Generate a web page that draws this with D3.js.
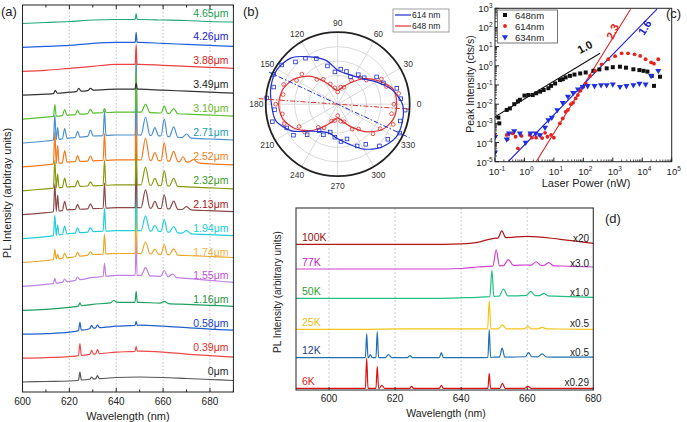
<!DOCTYPE html>
<html><head><meta charset="utf-8">
<script src="https://cdn.jsdelivr.net/npm/d3@7"></script>
<style>body{margin:0;background:#fff}svg{display:block}text{font-family:"Liberation Sans",Arial,sans-serif}</style>
</head><body><svg id="c" width="687" height="422"></svg>
<script>
// ---------------- Panel (a) data ----------------
const aWl = [600,610,620,630,640,650,660,670,680,690];
const aNames = ["0μm","0.39μm","0.58μm","1.16μm","1.55μm","1.74μm","1.94μm","2.13μm","2.32μm","2.52μm","2.71μm","3.10μm","3.49μm","3.88μm","4.26μm","4.65μm"];
const aBase = [
 [0,0.5,1,3,4.5,5,4.5,3.5,2.5,1.5],
 [0,0.5,1.5,4,6,7,6,4,2.5,1],
 [0,0.5,2,6,8,9,8,6.5,5,4],
 [0,1,3,6,8,8,7,6,5,4],
 [0,2,5,9,11,11,10,8,6,4],
 [0,2,5,8,9,9,8,7,6,5],
 [0,2,5,7,8,8,7,5,4,3],
 [0,2,5,6,7,7,6,5,4,3],
 [0,2,4,5,6,6,5,4,3,2],
 [0,2,5,6,7,7,6,5,3,2],
 [0,2,5,7,8,8,7,5,4,3],
 [0,2,4,6,7,7,6,5,4,3],
 [0,1,3,5,6,6,5,4,3,2],
 [0,1,3,5,7,7,6,5,4,3],
 [0,1,2,4,5,5,4,3,2,1],
 [0,1,2,3.5,4,4,3.5,3,2,1.5]
];
const aPeaks = [
 [[624.5,8,0.6],[629.5,2,0.8],[632,3,0.8]],
 [[624.5,12,0.6],[629.5,4,0.8],[632,4,0.8],[648.5,5,0.5]],
 [[624.5,8,0.6],[629.5,3,0.8],[632,3,0.8],[648.5,4,0.5]],
 [[624.5,3,0.7],[639,2,1.5],[648.5,11,0.5],[660.5,2,1.8]],
 [[613.8,5,0.6],[618,3,1],[623.5,3,1],[635,13,0.6],[648.5,40,0.4],[652.5,8,1.9],[660.5,6,1.6],[664,3,1.8]],
 [[613.8,10,0.6],[615,5,0.6],[618,5,1],[623.5,4,1],[629,3,1.2],[635,20,0.6],[648.5,90,0.4],[652.5,12,1.9],[656.5,5,1.6],[660.5,10,1.4],[664.5,6,1.8]],
 [[613.8,20,0.6],[615,10,0.6],[618,8,1],[623.5,5,1],[629,4,1.2],[635,23,0.6],[648.5,95,0.4],[652.5,15,1.9],[656.5,6,1.6],[660.5,12,1.4],[664.5,6,1.8],[670,3,2]],
 [[613.8,28,0.6],[615,16,0.6],[618,9,1],[623.5,5,1],[629,5,1.2],[635,25,0.6],[648.5,60,0.4],[652.5,18,1.9],[656.5,7,1.6],[660.5,14,1.4],[664.5,8,1.8],[670,3,2]],
 [[613.8,28,0.6],[615,14,0.6],[618,9,1],[623.5,6,1],[629,4,1.2],[635,25,0.6],[648.5,50,0.4],[652.5,18,1.9],[656.5,7,1.6],[660.5,15,1.4],[664.5,8,1.8]],
 [[613.8,32,0.6],[615,18,0.6],[618,12,1],[623.5,6,1],[629,5,1.2],[635,27,0.6],[648.5,100,0.4],[652.5,22,1.9],[656.5,8,1.6],[660.5,18,1.4],[664.5,10,1.8],[668.5,5,1.5],[673,3,2]],
 [[613.8,25,0.6],[615,12,0.6],[618,10,1],[623.5,6,1],[629,6,1.2],[635,25,0.6],[648.5,85,0.4],[652.5,18,1.9],[656.5,8,1.6],[660.5,17,1.4],[664.5,10,1.8],[670,4,2]],
 [[613.8,12,0.6],[618,6,1],[623.5,4,1],[629,4,1.2],[635,4,0.8],[648.5,40,0.4],[652.5,8,1.9],[660.5,7,1.4],[664.5,5,1.8]],
 [[614,3,0.8],[624,3,1],[629,2,1.2],[648.5,6,0.5]],
 [[648.5,20,0.4]],
 [[648.5,10,0.4]],
 [[648.5,6,0.4]]
];
const aLineColors = ["#555555","#f04848","#2060d0","#20a060","#c080e8","#e8a828","#20d0d8","#8a4848","#8a9a10","#f47a20","#4a90d0","#58c030","#333333","#f04040","#2060e0","#20a878"];
const aLabelColors = ["#222222","#e02828","#1a40d0","#1f9040","#c050e0","#f0b040","#10cce0","#a02020","#3a9a20","#f08020","#1aa0b0","#6ab82a","#222222","#e02020","#1a1adc","#1a9e50"];
const aTicks = [600,620,640,660,680];
const aMinor = [610,630,650,670,690];

// ---------------- Panel (b) data ----------------
const bFitAngles = [0,15,30,45,60,75,90,105,120,135,150,165,180,195,210,225,240,255,270,285,300,315,330,345];
const bFit614 = [0.90,0.78,0.62,0.50,0.45,0.44,0.47,0.63,0.76,0.91,0.97,0.96,0.92,0.89,0.74,0.53,0.44,0.42,0.48,0.57,0.72,0.85,0.93,0.93];
const bFit648 = [0.82,0.80,0.65,0.50,0.34,0.24,0.19,0.23,0.36,0.55,0.70,0.79,0.82,0.79,0.68,0.52,0.35,0.24,0.19,0.24,0.36,0.54,0.71,0.80];
const bPtAngles = d3.range(0,360,10);
const bPts614 = [0.88,0.85,0.70,0.66,0.52,0.50,0.42,0.47,0.49,0.45,0.55,0.70,0.78,0.83,0.95,0.98,0.92,0.99,0.88,0.94,0.78,0.75,0.60,0.45,0.47,0.40,0.46,0.52,0.50,0.64,0.68,0.82,0.85,0.95,0.90,0.94];
const bPts648 = [0.78,0.86,0.72,0.70,0.52,0.48,0.38,0.25,0.24,0.17,0.23,0.30,0.40,0.45,0.65,0.66,0.80,0.77,0.86,0.78,0.79,0.62,0.60,0.42,0.38,0.25,0.23,0.16,0.24,0.26,0.40,0.45,0.64,0.68,0.82,0.76];
const bAxis614 = [[155,1.05],[335,1.1]];
const bAxis648 = [[176,1.1],[356,1.0]];
const bAngleTicks = [0,30,60,90,120,150,180,210,240,270,300,330];
const bRings = [0.2,0.4,0.6,0.8];

// ---------------- Panel (c) data ----------------
const c648 = [[0.14,1e-3],[0.13,2e-3],[0.25,5e-3],[0.32,6e-3],[0.45,0.01],[0.6,0.014],[0.7,0.017],[1.0,0.028],[1.35,0.03],[1.9,0.03],[2.5,0.037],[3.4,0.045],[4.5,0.055],[6.5,0.068],[8,0.09],[11,0.12],[16,0.18],[20,0.2],[25,0.25],[35,0.3],[50,0.35],[78,0.4],[120,0.45],[220,0.55],[350,0.65],[620,0.74],[1000,0.85],[1750,0.9],[2800,0.8],[5000,0.66],[8000,0.6],[11000,0.55],[15000,0.5],[21000,0.3],[25000,0.09],[40000,0.27]];
const c614 = [[0.1,2.5e-4],[0.1,2e-4],[0.25,2.5e-4],[0.27,1.5e-4],[0.4,3e-4],[0.5,2e-4],[0.6,5e-5],[0.8,2.2e-4],[1.5,2.5e-4],[1.8,1.8e-4],[2.5,1.8e-4],[3.2,2.5e-4],[4,1.7e-4],[5,3.2e-4],[6,2e-4],[8,2.5e-4],[10,1.8e-4],[16,1e-3],[20,1.8e-3],[25,4e-3],[30,5e-3],[38,0.01],[45,0.012],[55,0.02],[65,0.03],[80,0.05],[100,0.08],[120,0.12],[170,0.3],[250,0.55],[420,1.2],[700,2.2],[1200,3.2],[2000,4.5],[3300,4.5],[5500,4],[8500,3.3],[13000,2.2],[20000,1.5],[25000,1.3],[35000,2.2]];
const c634 = [[0.1,3e-5],[0.1,2e-4],[0.25,1.5e-4],[0.3,3e-4],[0.45,4e-4],[0.7,3e-4],[1.1,1e-4],[1.6,3e-4],[2.4,3e-4],[3.4,2.5e-4],[5,6e-4],[6.5,1.5e-3],[8.5,2e-3],[13,5e-3],[20,0.012],[30,0.025],[45,0.04],[66,0.06],[95,0.08],[140,0.09],[240,0.09],[400,0.1],[620,0.1],[1000,0.11],[1750,0.08],[2900,0.09],[5000,0.1],[8000,0.12],[13000,0.11],[20000,0.3],[35000,0.55]];
const cFit648 = [[0.1,2.2e-3],[370,4.5]];
const cFit614 = [[2.5,1e-5],[4000,900]];
const cFit634 = [[0.28,1e-5],[31600,900]];
const cXTicks = [-1,0,1,2,3,4,5];
const cYTicks = [-5,-4,-3,-2,-1,0,1,2,3];

// ---------------- Panel (d) data ----------------
const dWl = [590,600,610,620,630,640,645,650,660,670,680];
const dNames = ["6K","12K","25K","50K","77K","100K"];
const dFactors = ["x0.29","x0.5","x0.5","x1.0","x3.0","x20"];
const dOffsets = [1.7,32.3,60.7,91.7,121,145.7];
const dBase = [
 [0,0,0,0,0,0,0,0,0,0,0],
 [0,0,0,0,0,0,0,0.5,1,0.5,0.5],
 [0,0,0,0.5,0.5,0.5,0.5,0.5,0.5,0.3,0],
 [0,0,0,0,0,0.5,1,2,3,2,1],
 [0,0,0,0,0,0.5,2,3,4,3,2],
 [0,0,0,0,0,0.5,2,6,8,5,1]
];
const dPeaks = [
 [[611.4,30,0.4],[614.6,22,0.4],[616,3,0.8],[625,2,0.6],[634,3,0.6],[648.5,15,0.4],[652.5,5,0.8],[660.2,2,1]],
 [[611.4,24,0.4],[612.5,3,0.6],[614.6,26,0.4],[618,3,1],[624.5,2,0.8],[634,5,0.6],[648.5,28,0.4],[652.4,9,0.8],[660.4,4,1],[664.5,3,1.3]],
 [[648.5,28,0.5],[652.5,4,1.3],[660.2,2.5,1],[664.5,1.5,1.3]],
 [[649.3,26,0.6],[652.8,7,1.3],[661.1,4,1.3],[665,2.5,1.3]],
 [[650.6,16,1.0],[654.3,6,1.5],[662.7,3.5,1.5],[666.5,3,1.5]],
 [[652.3,7,1.2]]
];
const dLineColors = ["#e01010","#2070b0","#f5c518","#20c080","#d040d0","#b01818"];
const dLabelColors = ["#e02020","#1f3f90","#f0c020","#30a030","#c020c0","#a01010"];
const dTicks = [600,620,640,660,680];

// ---------------- helpers ----------------
const svg = d3.select("#c");
function buildSpectrum(wl, base, peaks){
  const interp = x => {
    let i = d3.bisectRight(wl, x) - 1;
    i = Math.max(0, Math.min(wl.length - 2, i));
    const t = (x - wl[i]) / (wl[i+1] - wl[i]);
    return base[i] + t * (base[i+1] - base[i]);
  };
  const pts = [];
  wl.forEach((x,i) => {
    if (!peaks.some(([c,h,w]) => Math.abs(x - c) <= w + 0.05)) pts.push([x, base[i]]);
  });
  peaks.forEach(([c,h,w]) => {
    pts.push([c - w, interp(c - w)], [c, interp(c) + h], [c + w, interp(c + w)]);
  });
  pts.sort((a,b) => a[0] - b[0]);
  return pts;
}
function pow10(sel, e){
  sel.text("10");
  sel.append("tspan").attr("dy", -4).attr("font-size", 6.5).text(e);
}

// ================= Panel (a) =================
{
  const x = d3.scaleLinear([600, 690], [22.5, 233.4]);
  const y = d3.scaleLinear([-10, 377], [392, 5]);
  const step = 23.9;
  const g = svg.append("g");
  g.selectAll(".grid").data(aTicks.slice(1)).join("line")
    .attr("x1", d => x(d)).attr("x2", d => x(d)).attr("y1", y.range()[1]).attr("y2", y.range()[0])
    .attr("stroke", "#b5b5b5").attr("stroke-width", 0.8).attr("stroke-dasharray", "1.5,2");
  const line = d3.line().x(d => x(d[0])).y(d => y(d[1])).curve(d3.curveMonotoneX);
  aNames.forEach((name, k) => {
    const pts = buildSpectrum(aWl, aBase[k], aPeaks[k]).map(p => [p[0], p[1] + k * step]);
    g.append("path").attr("d", line(pts)).attr("fill", "none")
      .attr("stroke", aLineColors[k]).attr("stroke-width", 1.2);
  });
  aNames.forEach((name, k) => {
    g.append("text").attr("x", 228.5).attr("y", y(k * step + 7)).attr("text-anchor", "end")
      .attr("font-size", 10.5).attr("fill", aLabelColors[k]).text(name);
  });
  g.append("rect").attr("x", x(600)).attr("y", 5).attr("width", x(690) - x(600)).attr("height", 387)
    .attr("fill", "none").attr("stroke", "#222").attr("stroke-width", 1);
  const ticks = aTicks.map(t => [t, 4]).concat(aMinor.map(t => [t, 2.5]));
  ticks.forEach(([t, len]) => {
    g.append("line").attr("x1", x(t)).attr("x2", x(t)).attr("y1", 392).attr("y2", 392 - len).attr("stroke", "#222");
    g.append("line").attr("x1", x(t)).attr("x2", x(t)).attr("y1", 5).attr("y2", 5 + len).attr("stroke", "#222");
  });
  g.selectAll(".tl").data(aTicks).join("text").attr("x", d => x(d)).attr("y", 405)
    .attr("text-anchor", "middle").attr("font-size", 10).attr("fill", "#222").text(d => d);
  g.append("text").attr("x", 128).attr("y", 420).attr("text-anchor", "middle").attr("font-size", 11)
    .attr("fill", "#222").text("Wavelength (nm)");
  g.append("text").attr("transform", "translate(11,193) rotate(-90)").attr("text-anchor", "middle")
    .attr("font-size", 11).attr("fill", "#222").text("PL Intensity (arbitray units)");
  g.append("text").attr("x", 1).attr("y", 16).attr("font-size", 13).attr("fill", "#222").text("(a)");
}

// ================= Panel (b) =================
{
  const cx = 337.7, cy = 104.2;
  const r = d3.scaleLinear([0, 1], [0, 72]);
  const g = svg.append("g").attr("transform", `translate(${cx},${cy})`);
  const pol = (deg, v) => [r(v) * Math.cos(deg * Math.PI / 180), -r(v) * Math.sin(deg * Math.PI / 180)];
  g.selectAll(".ring").data(bRings).join("circle").attr("r", d => r(d))
    .attr("fill", "none").attr("stroke", "#d0d0d0").attr("stroke-width", 0.8);
  g.selectAll(".spoke").data(bAngleTicks).join("line")
    .attr("x1", 0).attr("y1", 0).attr("x2", d => pol(d, 1)[0]).attr("y2", d => pol(d, 1)[1])
    .attr("stroke", "#d0d0d0").attr("stroke-width", 0.8);
  const radial = d3.lineRadial().angle(d => (90 - d[0]) * Math.PI / 180).radius(d => r(d[1]))
    .curve(d3.curveCardinalClosed.tension(0.2));
  g.append("path").attr("d", radial(bFitAngles.map((a, i) => [a, bFit648[i]])))
    .attr("fill", "none").attr("stroke", "#e03030").attr("stroke-width", 1.2);
  g.append("path").attr("d", radial(bFitAngles.map((a, i) => [a, bFit614[i]])))
    .attr("fill", "none").attr("stroke", "#2030d0").attr("stroke-width", 1.2);
  bPtAngles.forEach((a, i) => {
    const p = pol(a, bPts648[i]);
    g.append("circle").attr("cx", p[0]).attr("cy", p[1]).attr("r", 1.9)
      .attr("fill", "none").attr("stroke", "#e03030").attr("stroke-width", 0.8);
  });
  bPtAngles.forEach((a, i) => {
    const p = pol(a + 5, bPts614[i]);
    g.append("rect").attr("x", p[0] - 1.8).attr("y", p[1] - 1.8).attr("width", 3.6).attr("height", 3.6)
      .attr("fill", "none").attr("stroke", "#2030d0").attr("stroke-width", 0.8);
  });
  [[bAxis614, "#2030d0"], [bAxis648, "#e03030"]].forEach(([seg, col]) => {
    const p1 = pol(seg[0][0], seg[0][1]), p2 = pol(seg[1][0], seg[1][1]);
    g.append("line").attr("x1", p1[0]).attr("y1", p1[1]).attr("x2", p2[0]).attr("y2", p2[1])
      .attr("stroke", col).attr("stroke-width", 1).attr("stroke-dasharray", "5,2,1.5,2");
  });
  g.append("circle").attr("r", r(1)).attr("fill", "none").attr("stroke", "#222").attr("stroke-width", 1.8);
  g.selectAll(".al").data(bAngleTicks).join("text")
    .attr("x", d => pol(d, 1.13)[0]).attr("y", d => pol(d, 1.13)[1] + 3)
    .attr("text-anchor", "middle").attr("font-size", 8.5).attr("fill", "#333").text(d => d);
  const lg = svg.append("g");
  lg.append("rect").attr("x", 393).attr("y", 9).attr("width", 56).attr("height", 23)
    .attr("fill", "#fff").attr("stroke", "#888").attr("stroke-width", 0.8);
  [["614 nm", "#2030d0", 15], ["648 nm", "#e03030", 26]].forEach(([t, c, yy]) => {
    lg.append("line").attr("x1", 395).attr("x2", 411).attr("y1", yy).attr("y2", yy).attr("stroke", c).attr("stroke-width", 1.2);
    lg.append("text").attr("x", 412).attr("y", yy + 3).attr("font-size", 8.5).attr("fill", "#222").text(t);
  });
  svg.append("text").attr("x", 243).attr("y", 16).attr("font-size", 13).attr("fill", "#222").text("(b)");
}

// ================= Panel (c) =================
{
  const x = d3.scaleLog([0.1, 1e5], [495, 671.7]);
  const y = d3.scaleLog([1e-5, 1e3], [161.7, 8.3]);
  const g = svg.append("g");
  const fitLine = d3.line().x(d => x(d[0])).y(d => y(d[1]));
  g.append("defs").append("clipPath").attr("id", "cclip").append("rect")
    .attr("x", 495).attr("y", 8.3).attr("width", 176.7).attr("height", 153.4);
  const pg = g.append("g").attr("clip-path", "url(#cclip)");
  pg.append("path").attr("d", fitLine(cFit648)).attr("stroke", "#111").attr("stroke-width", 1.1).attr("fill", "none");
  pg.append("path").attr("d", fitLine(cFit614)).attr("stroke", "#e02020").attr("stroke-width", 1.1).attr("fill", "none");
  pg.append("path").attr("d", fitLine(cFit634)).attr("stroke", "#2020d0").attr("stroke-width", 1.1).attr("fill", "none");
  c648.forEach(d => pg.append("rect").attr("x", x(d[0]) - 2).attr("y", y(d[1]) - 2).attr("width", 4).attr("height", 4).attr("fill", "#111"));
  c614.forEach(d => pg.append("circle").attr("cx", x(d[0])).attr("cy", y(d[1])).attr("r", 1.9).attr("fill", "#e82020"));
  const tri = d3.symbol().type(d3.symbolTriangle).size(16);
  c634.forEach(d => pg.append("path").attr("d", tri()).attr("transform", `translate(${x(d[0])},${y(d[1])}) rotate(180)`).attr("fill", "#2030e0"));
  g.append("rect").attr("x", 495).attr("y", 8.3).attr("width", 176.7).attr("height", 153.4)
    .attr("fill", "none").attr("stroke", "#222").attr("stroke-width", 1);
  cXTicks.forEach((e, i) => {
    const v = Math.pow(10, e);
    g.append("line").attr("x1", x(v)).attr("x2", x(v)).attr("y1", 161.7).attr("y2", 157.7).attr("stroke", "#222");
    if (i < cXTicks.length - 1) for (let m = 2; m < 10; m++) {
      g.append("line").attr("x1", x(v * m)).attr("x2", x(v * m)).attr("y1", 161.7).attr("y2", 159.5).attr("stroke", "#222").attr("stroke-width", 0.8);
    }
    g.append("text").attr("x", x(v) + 2).attr("y", 175).attr("text-anchor", "middle").attr("font-size", 9.5).attr("fill", "#222").call(pow10, e);
  });
  cYTicks.forEach((e, i) => {
    const v = Math.pow(10, e);
    g.append("line").attr("x1", 495).attr("x2", 499).attr("y1", y(v)).attr("y2", y(v)).attr("stroke", "#222");
    if (i < cYTicks.length - 1) for (let m = 2; m < 10; m++) {
      g.append("line").attr("x1", 495).attr("x2", 497).attr("y1", y(v * m)).attr("y2", y(v * m)).attr("stroke", "#222").attr("stroke-width", 0.8);
    }
    g.append("text").attr("x", 492.5).attr("y", y(v) + 4).attr("text-anchor", "end").attr("font-size", 9.5).attr("fill", "#222").call(pow10, e);
  });
  g.append("text").attr("x", 586).attr("y", 187).attr("text-anchor", "middle").attr("font-size", 11).attr("fill", "#222").text("Laser Power (nW)");
  g.append("text").attr("transform", "translate(474,84) rotate(-90)").attr("text-anchor", "middle").attr("font-size", 10.5).attr("fill", "#222").text("Peak Intensity (cts/s)");
  g.append("rect").attr("x", 497.5).attr("y", 10).attr("width", 60).attr("height", 33).attr("fill", "#fff").attr("stroke", "#555").attr("stroke-width", 0.8);
  g.append("rect").attr("x", 503).attr("y", 13).attr("width", 4).attr("height", 4).attr("fill", "#111");
  g.append("circle").attr("cx", 505).attr("cy", 26).attr("r", 1.9).attr("fill", "#e82020");
  g.append("path").attr("d", tri()).attr("transform", "translate(505,37) rotate(180)").attr("fill", "#2030e0");
  [["648nm", 18.5], ["614nm", 29.5], ["634nm", 40.5]].forEach(([t, yy]) =>
    g.append("text").attr("x", 515).attr("y", yy).attr("font-size", 9.5).attr("fill", "#222").text(t));
  g.append("text").attr("transform", "translate(580,54) rotate(-28)").attr("font-size", 11).attr("font-weight", "bold").attr("fill", "#111").text("1.0");
  g.append("text").attr("transform", "translate(613,40) rotate(-66)").attr("font-size", 11).attr("font-weight", "bold").attr("fill", "#e02020").text("2.3");
  g.append("text").attr("transform", "translate(644,36) rotate(-58)").attr("font-size", 11).attr("font-weight", "bold").attr("fill", "#2020d0").text("1.6");
  svg.append("text").attr("x", 666).attr("y", 18).attr("font-size", 13).attr("fill", "#222").text("(c)");
}

// ================= Panel (d) =================
{
  const x = d3.scaleLinear([590, 680], [296, 593.3]);
  const y = d3.scaleLinear([0, 182], [390, 208]);
  const g = svg.append("g");
  g.selectAll(".grid").data(dTicks.slice(0, 4)).join("line")
    .attr("x1", d => x(d)).attr("x2", d => x(d)).attr("y1", 208).attr("y2", 390)
    .attr("stroke", "#c0c0c0").attr("stroke-width", 0.8).attr("stroke-dasharray", "2,2");
  const line = d3.line().x(d => x(d[0])).y(d => y(d[1])).curve(d3.curveMonotoneX);
  dNames.forEach((n, k) => {
    const pts = buildSpectrum(dWl, dBase[k], dPeaks[k]).map(p => [p[0], p[1] + dOffsets[k]]);
    g.append("path").attr("d", line(pts)).attr("fill", "none").attr("stroke", dLineColors[k]).attr("stroke-width", 1.2);
    g.append("text").attr("x", 302).attr("y", y(dOffsets[k] + 3.5)).attr("font-size", 10.5).attr("fill", dLabelColors[k]).text(n);
    g.append("text").attr("x", 589).attr("y", y(dOffsets[k] + 2)).attr("text-anchor", "end").attr("font-size", 10).attr("fill", "#222").text(dFactors[k]);
  });
  g.append("rect").attr("x", 296).attr("y", 208).attr("width", 297.3).attr("height", 182)
    .attr("fill", "none").attr("stroke", "#333").attr("stroke-width", 1.1);
  dTicks.forEach(t => g.append("line").attr("x1", x(t)).attr("x2", x(t)).attr("y1", 390).attr("y2", 387).attr("stroke", "#333"));
  g.selectAll(".tl").data(dTicks).join("text").attr("x", d => x(d)).attr("y", 402)
    .attr("text-anchor", "middle").attr("font-size", 10).attr("fill", "#222").text(d => d);
  g.append("text").attr("x", 446).attr("y", 417).attr("text-anchor", "middle").attr("font-size", 10.5).attr("fill", "#222").text("Wavelength (nm)");
  g.append("text").attr("transform", "translate(281,292) rotate(-90)").attr("text-anchor", "middle").attr("font-size", 10).attr("fill", "#222").text("PL Intensity (arbitrary units)");
  svg.append("text").attr("x", 605).attr("y", 223).attr("font-size", 13).attr("fill", "#222").text("(d)");
}
</script></body></html>
